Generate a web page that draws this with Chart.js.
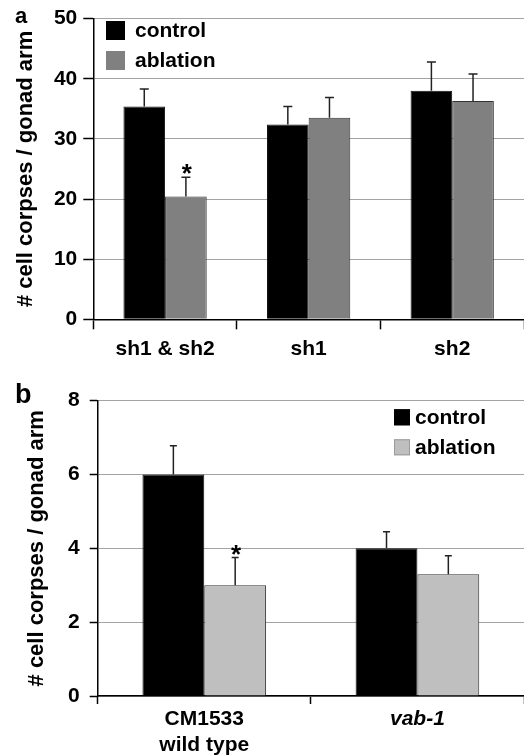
<!DOCTYPE html>
<html>
<head>
<meta charset="utf-8">
<script src="https://cdn.jsdelivr.net/npm/chart.js@4.4.1/dist/chart.umd.min.js"></script>
<style>
body { margin: 0; background: #fff; }
.panel { width: 524px; height: 378px; }
canvas { display: block; }
</style>
</head>
<body>
<div class="panel"><canvas id="chartA" width="524" height="378"></canvas></div>
<div class="panel"><canvas id="chartB" width="524" height="378"></canvas></div>
<script>
// panel a
const labelsA = ["sh1 & sh2", "sh1", "sh2"];
const controlA = [35.4, 32.4, 38.0];
const ablationA = [20.4, 33.5, 36.3];
const controlErrA = [2.9, 3.0, 4.8];
const ablationErrA = [3.2, 3.4, 4.5];
const starsA = [true, false, false];

// panel b
const labelsB = [["CM1533", "wild type"], "vab-1"];
const controlB = [6.0, 4.0];
const ablationB = [3.0, 3.3];
const controlErrB = [0.78, 0.45];
const ablationErrB = [0.75, 0.5];
const starsB = [true, false];

const FONT = "'Liberation Sans', Arial, sans-serif";

// error bars (upper whisker only), significance stars, legend and panel letter
const extras = {
    id: 'extras',
    afterDatasetsDraw(chart, args, opts) {
        const ctx = chart.ctx;
        const y = chart.scales.y;
        ctx.save();
        chart.data.datasets.forEach((ds, i) => {
            chart.getDatasetMeta(i).data.forEach((bar, j) => {
                const top = y.getPixelForValue(ds.data[j] + ds.errors[j]);
                ctx.strokeStyle = '#222';
                ctx.lineWidth = 1.5;
                ctx.beginPath();
                ctx.moveTo(bar.x, bar.y);
                ctx.lineTo(bar.x, top);
                ctx.moveTo(bar.x - opts.cap, top);
                ctx.lineTo(bar.x + opts.cap, top);
                ctx.stroke();
                if (ds.stars && ds.stars[j]) {
                    ctx.fillStyle = '#000';
                    ctx.font = 'bold 26px ' + FONT;
                    ctx.textAlign = 'center';
                    ctx.textBaseline = 'alphabetic';
                    ctx.fillText('*', bar.x + 1, top + 5);
                }
            });
        });

        // legend
        const lg = opts.legend;
        ctx.font = 'bold 21px ' + FONT;
        ctx.textAlign = 'left';
        ctx.textBaseline = 'middle';
        chart.data.datasets.forEach((ds, i) => {
            const by = lg.y + i * lg.gap;
            ctx.fillStyle = ds.backgroundColor;
            ctx.fillRect(lg.x, by, lg.box, lg.box);
            ctx.strokeStyle = ds.legendBorder;
            ctx.lineWidth = 1;
            ctx.strokeRect(lg.x + 0.5, by + 0.5, lg.box - 1, lg.box - 1);
            ctx.fillStyle = '#000';
            ctx.fillText(ds.label, lg.textX, by + lg.box / 2 + 1);
        });

        // panel letter
        ctx.font = 'bold ' + opts.letterSize + 'px ' + FONT;
        ctx.textBaseline = 'alphabetic';
        ctx.fillText(opts.letter, opts.letterX, opts.letterY);
        ctx.restore();
    }
};

const config = (c) => {
    return {
        type: 'bar',
        data: {
            labels: c.labels,
            datasets: [{
                label: 'control',
                data: c.control,
                errors: c.controlErr,
                backgroundColor: '#000000',
                borderColor: '#111111',
                legendBorder: '#000000',
                borderWidth: 1
            }, {
                label: 'ablation',
                data: c.ablation,
                errors: c.ablationErr,
                stars: c.stars,
                backgroundColor: c.ablationColor,
                borderColor: '#333333',
                legendBorder: c.ablationLegendBorder,
                borderWidth: 1
            }]
        },
        options: {
            responsive: false,
            animation: false,
            layout: { padding: { top: c.top, left: 0, right: 0, bottom: 0 } },
            datasets: { bar: { categoryPercentage: 0.58, barPercentage: 1.0 } },
            plugins: {
                legend: { display: false },
                tooltip: { enabled: false },
                extras: {
                    cap: c.cap,
                    legend: c.legend,
                    letter: c.letter,
                    letterX: c.letterX,
                    letterY: c.letterY,
                    letterSize: c.letterSize
                }
            },
            scales: {
                x: {
                    afterFit: (s) => { s.height = c.xHeight; },
                    offset: true,
                    grid: {
                        offset: true,
                        drawOnChartArea: false,
                        drawTicks: true,
                        tickLength: c.xTick,
                        tickColor: '#000',
                        tickWidth: 1.5
                    },
                    border: { color: '#000', width: 1.5 },
                    ticks: {
                        color: '#000',
                        padding: c.xPad,
                        autoSkip: false,
                        maxRotation: 0,
                        font: (ctx) => ({
                            family: FONT,
                            size: 21,
                            weight: 'bold',
                            style: c.italic[ctx.index] ? 'italic' : 'normal',
                            lineHeight: 1.2
                        })
                    }
                },
                y: {
                    afterFit: (s) => { s.width = c.yWidth; },
                    min: 0,
                    max: c.max,
                    grid: {
                        color: '#a3a3a3',
                        lineWidth: 1,
                        tickLength: c.yTick,
                        tickColor: '#000',
                        tickWidth: 1.5
                    },
                    border: { color: '#000', width: 1.5 },
                    ticks: {
                        stepSize: c.step,
                        color: '#000',
                        padding: c.yPad,
                        font: { family: FONT, size: 21, weight: 'bold' }
                    },
                    title: {
                        display: true,
                        text: '# cell corpses / gonad arm',
                        color: '#000',
                        font: { family: FONT, size: 22, weight: 'bold', lineHeight: 1.2 },
                        padding: { top: c.titlePad, bottom: 0 }
                    }
                }
            }
        },
        plugins: [extras]
    };
};

const chartA = new Chart(document.getElementById('chartA'), config({
    labels: labelsA,
    control: controlA,
    ablation: ablationA,
    controlErr: controlErrA,
    ablationErr: ablationErrA,
    stars: starsA,
    italic: [false, false, false],
    ablationColor: '#808080',
    ablationLegendBorder: '#808080',
    max: 50, step: 10,
    top: 15.7, xHeight: 58.7, yWidth: 93.3,
    xTick: 10, xPad: 7, yTick: 10, yPad: 6, titlePad: 12.5,
    cap: 4.5,
    legend: { x: 106, y: 21, gap: 30, box: 19, textX: 135 },
    letter: 'a', letterX: 15, letterY: 23.3, letterSize: 22
}));

const chartB = new Chart(document.getElementById('chartB'), config({
    labels: labelsB,
    control: controlB,
    ablation: ablationB,
    controlErr: controlErrB,
    ablationErr: ablationErrB,
    stars: starsB,
    italic: [false, true],
    ablationColor: '#bfbfbf',
    ablationLegendBorder: '#9a9a9a',
    max: 8, step: 2,
    top: 19.3, xHeight: 60, yWidth: 97.7,
    xTick: 8, xPad: 3, yTick: 8, yPad: 10, titlePad: 24.2,
    cap: 3.5,
    legend: { x: 394, y: 31.3, gap: 30, box: 16, textX: 415 },
    letter: 'b', letterX: 15, letterY: 25.3, letterSize: 27
}));
</script>
</body>
</html>
